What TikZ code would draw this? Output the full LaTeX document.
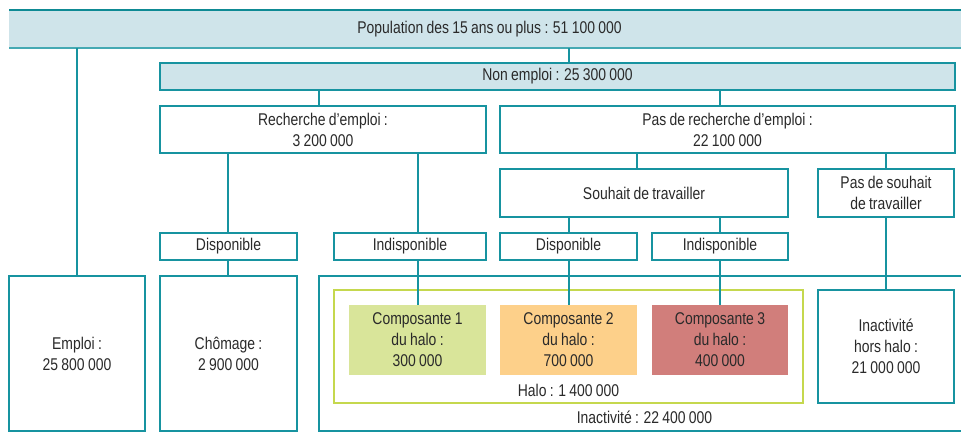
\documentclass[tikz,border=0pt]{standalone}
\usepackage{fontspec}
\setmainfont[FakeStretch=0.82, WordSpace=0.85]{Liberation Sans}
\definecolor{tl}{HTML}{1793A0}
\definecolor{tldark}{HTML}{0E8A94}
\definecolor{lb}{HTML}{CFE4EA}
\definecolor{txt}{HTML}{2A2A2A}
\definecolor{halog}{HTML}{C5D84E}
\definecolor{cA}{HTML}{D9E59A}
\definecolor{cB}{HTML}{FDD08A}
\definecolor{cC}{HTML}{D17E7B}
\begin{document}
\begin{tikzpicture}[x=1pt,y=-1pt,
  every node/.style={font=\fontsize{17}{21}\selectfont, text=txt, align=center, inner sep=0pt, outer sep=0pt},
  bx/.style={draw=tl, line width=1.5pt, fill=white},
  blu/.style={draw=tl, line width=1.5pt, fill=lb},
  comp/.style={fill=#1},
  conn/.style={draw=tl, line width=1.5pt}]
\useasboundingbox (0,0) rectangle (961,445);
% top
\node[fill=lb, minimum width=961pt, minimum height=38pt] (pop) at (489.5,29) {Population des 15 ans ou plus : 51 100 000};
\draw[tldark, line width=2.4pt] (pop.north west) -- (pop.north east);
\draw[tl!80, line width=1.6pt] (pop.south west) -- (pop.south east);
\node[blu, minimum width=795pt, minimum height=27pt] (ne) at (557.5,76.5) {Non emploi : 25 300 000};
% second level
\node[bx, minimum width=326pt, minimum height=47pt] (rech) at (323,129.5) {Recherche d’emploi :\\3 200 000};
\node[bx, minimum width=455pt, minimum height=47pt] (pasr) at (727.5,129.5) {Pas de recherche d’emploi :\\22 100 000};
\node[bx, minimum width=288pt, minimum height=48pt] (souh) at (644,193) {Souhait de travailler};
\node[bx, minimum width=136pt, minimum height=48pt] (pass) at (886,193) {Pas de souhait\\de travailler};
\node[bx, minimum width=137pt, minimum height=27pt] (disp1) at (228.5,246.5) {Disponible};
\node[bx, minimum width=152pt, minimum height=27pt] (indisp1) at (410,246.5) {Indisponible};
\node[bx, minimum width=137pt, minimum height=27pt] (disp2) at (568.5,246.5) {Disponible};
\node[bx, minimum width=136pt, minimum height=27pt] (indisp2) at (720,246.5) {Indisponible};
% bottom row
\node[bx, minimum width=136pt, minimum height=155pt] (emploi) at (77,353.5) {Emploi :\\25 800 000};
\node[bx, minimum width=137pt, minimum height=155pt] (chom) at (228.5,353.5) {Chômage :\\2 900 000};
\node[bx, minimum width=651pt, minimum height=155pt] (inact) at (644.5,353.5) {};
\node[draw=halog, line width=1.5pt, minimum width=469pt, minimum height=113pt] (halo) at (568.5,346.5) {};
\node[comp=cA, minimum width=137pt, minimum height=70pt] (c1) at (417.5,340) {Composante 1\\du halo :\\300 000};
\node[comp=cB, minimum width=137pt, minimum height=70pt] (c2) at (568.5,340) {Composante 2\\du halo :\\700 000};
\node[comp=cC, minimum width=136pt, minimum height=70pt] (c3) at (720,340) {Composante 3\\du halo :\\400 000};
\node[bx, minimum width=136pt, minimum height=113pt] (hors) at (886,346.5) {Inactivité\\hors halo :\\21 000 000};
\node (halolab) at (568.5,390) {Halo : 1 400 000};
\node (inactlab) at (644.5,417) {Inactivité : 22 400 000};
% connectors
\draw[conn] (pop.south -| 77,0) -- (emploi.north -| 77,0);
\draw[conn] (pop.south -| 569,0) -- (ne.north -| 569,0);
\draw[conn] (ne.south -| 319,0) -- (rech.north -| 319,0);
\draw[conn] (ne.south -| 720,0) -- (pasr.north -| 720,0);
\draw[conn] (rech.south -| 228,0) -- (disp1.north -| 228,0);
\draw[conn] (rech.south -| 418,0) -- (indisp1.north -| 418,0);
\draw[conn] (pasr.south -| 637,0) -- (souh.north -| 637,0);
\draw[conn] (pasr.south -| 886,0) -- (pass.north -| 886,0);
\draw[conn] (souh.south -| 569,0) -- (disp2.north -| 569,0);
\draw[conn] (souh.south -| 720,0) -- (indisp2.north -| 720,0);
\draw[conn] (disp1.south -| 228,0) -- (chom.north -| 228,0);
\draw[conn] (indisp1.south -| 418,0) -- (c1.north -| 418,0);
\draw[conn] (disp2.south -| 569,0) -- (c2.north -| 569,0);
\draw[conn] (indisp2.south -| 720,0) -- (c3.north -| 720,0);
\draw[conn] (pass.south -| 886,0) -- (hors.north -| 886,0);
\end{tikzpicture}
\end{document}
